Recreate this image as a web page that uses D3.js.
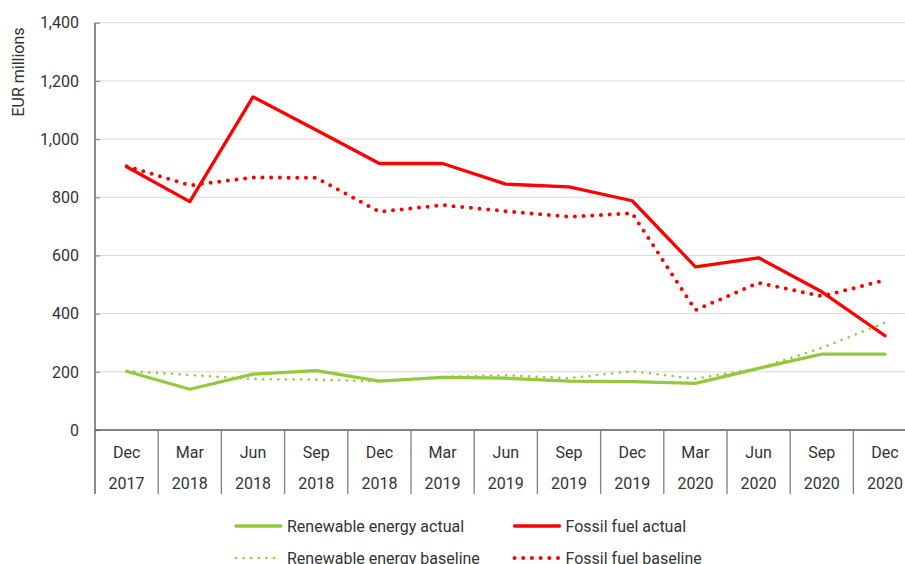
<!DOCTYPE html>
<html>
<head>
<meta charset="utf-8">
<script src="https://cdn.jsdelivr.net/npm/d3@7/dist/d3.min.js"></script>
<style>
  html, body { margin: 0; padding: 0; background: #fff; }
  svg { display: block; font-family: Roboto, "Noto Sans", sans-serif; }
</style>
</head>
<body>
<svg id="chart" width="905" height="564"></svg>
<script>
// Quarterly periods (month / year shown on two rows)
const months = ["Dec","Mar","Jun","Sep","Dec","Mar","Jun","Sep","Dec","Mar","Jun","Sep","Dec"];
const years  = ["2017","2018","2018","2018","2018","2019","2019","2019","2019","2020","2020","2020","2020"];
const categories = months.map((m, i) => m + " " + years[i]);

// EUR millions
const renewableActual   = [202, 140, 192, 204, 168, 181, 178, 168, 166, 160, 212, 261, 261];
const renewableBaseline = [203, 189, 175, 173, 167, 183, 188, 178, 202, 176, 212, 282, 369];
const fossilActual      = [905, 785, 1145, 1031, 916, 916, 845, 836, 788, 561, 592, 475, 324];
const fossilBaseline    = [907, 841, 868, 867, 750, 773, 752, 733, 745, 412, 506, 460, 515];

const yTicks = [0, 200, 400, 600, 800, 1000, 1200, 1400];

const green = "#94c83d";
const red = "#ff0000";
const textColor = "#333333";

const svg = d3.select("#chart");

const plotLeft = 95, plotTop = 22.7, plotBottom = 430, bandW = 63.2;
const plotRight = plotLeft + bandW * categories.length;

const x = d3.scaleBand().domain(categories).range([plotLeft, plotRight]).padding(0);
const y = d3.scaleLinear().domain([0, 1400]).range([plotBottom, plotTop]);
const cx = c => x(c) + x.bandwidth() / 2;

// Horizontal gridlines
svg.append("g")
  .selectAll("line")
  .data(yTicks.filter(t => t > 0))
  .join("line")
  .attr("x1", plotLeft).attr("x2", plotRight)
  .attr("y1", d => y(d)).attr("y2", d => y(d))
  .attr("stroke", "#d9d9d9").attr("stroke-width", 1);

// Y axis with short inward ticks
const yAxis = svg.append("g")
  .attr("transform", `translate(${plotLeft},0)`)
  .call(d3.axisRight(y).tickValues(yTicks).tickSize(5).tickFormat(""));
yAxis.select(".domain").remove();
yAxis.selectAll(".tick line").attr("stroke", "#8c8c8c").attr("stroke-width", 1.2);

svg.append("line")
  .attr("x1", plotLeft).attr("x2", plotLeft)
  .attr("y1", y(1400)).attr("y2", 494)
  .attr("stroke", "#8c8c8c").attr("stroke-width", 2);

// Y tick labels
svg.append("g")
  .selectAll("text")
  .data(yTicks)
  .join("text")
  .attr("x", 79).attr("y", d => y(d))
  .attr("dy", "0.36em")
  .attr("text-anchor", "end")
  .attr("font-size", 16)
  .attr("fill", textColor)
  .text(d => d3.format(",")(d));

// Y axis title
svg.append("text")
  .attr("transform", `translate(24,72) rotate(-90)`)
  .attr("text-anchor", "middle")
  .attr("font-size", 16)
  .attr("fill", textColor)
  .text("EUR millions");

// X axis: baseline and category dividers
svg.append("line")
  .attr("x1", plotLeft).attr("x2", plotRight)
  .attr("y1", plotBottom).attr("y2", plotBottom)
  .attr("stroke", "#595959").attr("stroke-width", 1.3);

svg.append("g")
  .selectAll("line")
  .data(categories.slice(1))
  .join("line")
  .attr("x1", d => x(d)).attr("x2", d => x(d))
  .attr("y1", plotBottom).attr("y2", 494)
  .attr("stroke", "#7f7f7f").attr("stroke-width", 1.3);

const xl = svg.append("g").attr("font-size", 16).attr("fill", textColor).attr("text-anchor", "middle");
xl.selectAll("text.m")
  .data(categories)
  .join("text").attr("class", "m")
  .attr("x", d => cx(d)).attr("y", 452).attr("dy", "0.36em")
  .text((d, i) => months[i]);
xl.selectAll("text.yr")
  .data(categories)
  .join("text").attr("class", "yr")
  .attr("x", d => cx(d)).attr("y", 483).attr("dy", "0.36em")
  .text((d, i) => years[i]);

// Series
const series = [
  { name: "Renewable energy baseline", values: renewableBaseline, color: green, width: 2.6, dash: "0 7.6" },
  { name: "Fossil fuel baseline",      values: fossilBaseline,    color: red,   width: 4,   dash: "0 8.7" },
  { name: "Renewable energy actual",   values: renewableActual,   color: green, width: 3.3, dash: null },
  { name: "Fossil fuel actual",        values: fossilActual,      color: red,   width: 3.3, dash: null }
];

const line = d3.line()
  .x((d, i) => cx(categories[i]))
  .y(d => y(d));

series.forEach(s => {
  svg.append("path")
    .datum(s.values)
    .attr("d", line)
    .attr("fill", "none")
    .attr("stroke", s.color)
    .attr("stroke-width", s.width)
    .attr("stroke-linecap", "round")
    .attr("stroke-linejoin", "round")
    .attr("stroke-dasharray", s.dash);
});

// Legend
const legendItems = [
  { name: "Renewable energy actual",   color: green, width: 3.3, dash: null,    lx: 235,   ly: 526 },
  { name: "Fossil fuel actual",        color: red,   width: 3.3, dash: null,    lx: 513.5, ly: 526 },
  { name: "Renewable energy baseline", color: green, width: 2.6, dash: "0 7.6", lx: 235,   ly: 558 },
  { name: "Fossil fuel baseline",      color: red,   width: 4,   dash: "0 8.7", lx: 513.5, ly: 558 }
];
const lg = svg.append("g");
legendItems.forEach(it => {
  lg.append("line")
    .attr("x1", it.lx + 1).attr("x2", it.lx + 46)
    .attr("y1", it.ly).attr("y2", it.ly)
    .attr("stroke", it.color)
    .attr("stroke-width", it.width)
    .attr("stroke-linecap", "round")
    .attr("stroke-dasharray", it.dash);
  lg.append("text")
    .attr("x", it.lx + 52).attr("y", it.ly).attr("dy", "0.36em")
    .attr("font-size", 16).attr("fill", textColor)
    .text(it.name);
});
</script>
</body>
</html>
